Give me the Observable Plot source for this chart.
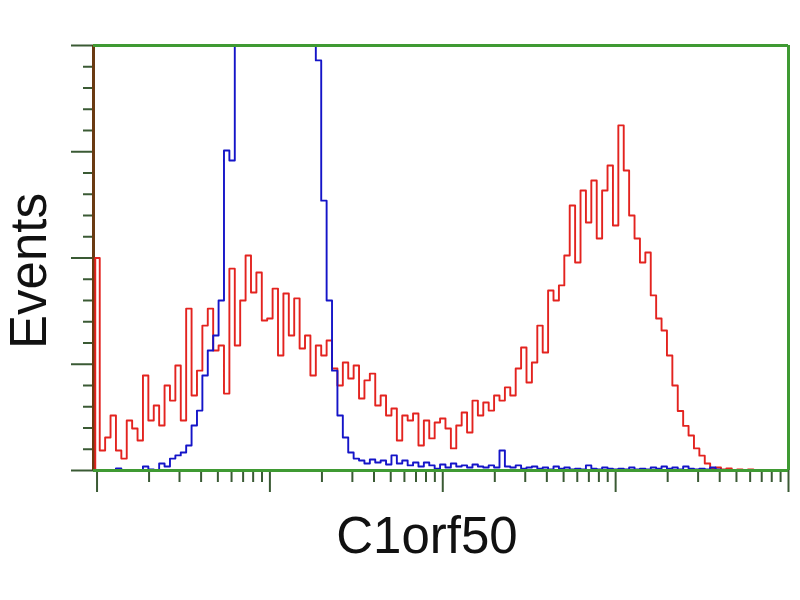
<!DOCTYPE html>
<html>
<head>
<meta charset="utf-8">
<script src="https://cdn.jsdelivr.net/npm/d3@7"></script>
<script src="https://cdn.jsdelivr.net/npm/@observablehq/plot@0.6"></script>
<style>
  html, body { margin: 0; padding: 0; background: #fff; }
</style>
</head>
<body>
<div id="chart"></div>
<script>
// Bins: FACS channel numbers (256 channels per decade, 4 decades)
const binChannels = d3.range(0, 1024, 8);

// Red histogram (C1orf50 antibody) counts per bin
const redCounts = [
  100, 9.4, 15.5, 25.9, 9.4, 5.6, 23.5, 19.8, 14.1, 44.7,
  23.5, 30.6, 21.2, 40, 32.9, 49.4, 23.5, 76.2, 35.3, 47,
  68.2, 76.2, 56.5, 58.8, 36.2, 95, 58.8, 80, 101.2, 83.8,
  93.2, 70.6, 71.5, 85.6, 54.1, 83.3, 63.5, 81, 57.4, 63.5,
  44.7, 58.8, 54.1, 61.2, 48, 40, 50.8, 43.3, 49.4, 33.9,
  42.4, 45.6, 30.6, 35.3, 25.9, 29.2, 14.1, 25.9, 23.5, 26.8,
  11.8, 23.5, 15.1, 22.6, 24.5, 19.8, 10.4, 21.2, 27.3, 17.9,
  32.9, 25.9, 32, 28.2, 35.3, 32.9, 39.1, 35.3, 48, 57.9,
  41.4, 50.8, 68.2, 55.5, 84.7, 80, 87.1, 101.2, 124.7, 97.9,
  131.8, 116.7, 136.5, 109.2, 131.8, 143.5, 115.3, 162.4, 141.2, 120,
  109.2, 97.9, 102.6, 82.4, 71.5, 65.9, 54.1, 40, 28, 21,
  16.5, 10.4, 7, 3.3, 0.9, 1.4, 0.5, 1, 0, 0.5,
  0, 0.5, 0, 0, 0, 0, 0, 0
];

// Blue histogram (negative control) counts per bin
const blueCounts = [
  0, 0, 0, 0, 1, 0, 0, 0, 0, 1.9,
  0.5, 0, 3.3, 1.9, 5.6, 7.1, 8.5, 11.8, 21.2, 28.2,
  44.7, 56.5, 63.5, 80, 150.6, 145.9, 215, 245, 270, 290,
  305, 315, 320, 318, 312, 300, 285, 265, 245, 225,
  205, 193, 127, 80, 47, 25.9, 15.5, 8.5, 5.6, 4.7,
  3.3, 5.2, 3.8, 4.7, 2.8, 7.1, 3.3, 4.7, 2.4, 3.8,
  1.9, 3.8, 2.4, 0.9, 2.8, 1.4, 3.3, 1.9, 2.4, 1.4,
  2.8, 1.9, 1.4, 2.4, 1.4, 9.4, 1.9, 1.4, 2.4, 0.9,
  1.4, 1.9, 0.9, 1.4, 0.5, 1.9, 0.9, 1.4, 0.5, 0.9,
  0.5, 2.4, 0.9, 0.5, 1.4, 0.9, 0.5, 0.9, 0.5, 1.4,
  0.5, 0.9, 0.5, 1.4, 0.9, 1.9, 0.9, 1.4, 0.5, 1.9,
  0.9, 0.5, 0.9, 0.5, 1.4, 0.5, 0, 0, 0, 0,
  0, 0, 0, 0, 0, 0, 0, 0
];

// Axis ticks
const xMajorTicks = [1, 10, 100, 1000, 10000];
const xMinorTicks = [2,3,4,5,6,7,8,9, 20,30,40,50,60,70,80,90, 200,300,400,500,600,700,800,900, 2000,3000,4000,5000,6000,7000,8000,9000];
const yMajorTicks = [0, 50, 100, 150, 200];
const yMinorTicks = [10,20,30,40, 60,70,80,90, 110,120,130,140, 160,170,180,190];

const xLabel = "C1orf50";
const yLabel = "Events";

const xDomain = [0.954, 10000];
const toFL = ch => Math.pow(10, ch / 256);

const startRow = {fl: xDomain[0], count: 0};
const redData = [startRow, ...binChannels.map((c, i) => ({fl: toFL(c), count: redCounts[i]}))];
const blueData = [startRow, ...binChannels.map((c, i) => ({fl: toFL(c), count: blueCounts[i]}))];

const green = "#3f9a33";
const tickColor = "#3a5a34";
const font = "Liberation Sans, Arial, Helvetica, sans-serif";

const chart = Plot.plot({
  width: 800,
  height: 600,
  marginTop: 45,
  marginBottom: 130,
  marginLeft: 93,
  marginRight: 12,
  style: {background: "#fff", overflow: "visible", fontFamily: font},
  x: {type: "log", domain: xDomain},
  y: {domain: [0, 200]},
  marks: [
    Plot.axisY({ticks: yMajorTicks, tickSize: 22, tickFormat: () => "", label: null, stroke: tickColor, strokeWidth: 2}),
    Plot.axisY({ticks: yMinorTicks, tickSize: 10, tickFormat: () => "", label: null, stroke: tickColor, strokeWidth: 2}),
    Plot.axisX({ticks: xMajorTicks, tickSize: 22, tickFormat: () => "", label: null, stroke: tickColor, strokeWidth: 2}),
    Plot.axisX({ticks: xMinorTicks, tickSize: 12, tickFormat: () => "", label: null, stroke: tickColor, strokeWidth: 2}),
    Plot.ruleX([xDomain[0]], {stroke: "#6a3a12", strokeWidth: 3}),
    Plot.line(redData, {x: "fl", y: "count", curve: "step", stroke: "#e3231f", strokeWidth: 1.9, clip: true}),
    Plot.line(blueData, {x: "fl", y: "count", curve: "step", stroke: "#1414c8", strokeWidth: 1.9, clip: true}),
    Plot.ruleY([0], {stroke: green, strokeWidth: 3}),
    Plot.ruleY([200], {stroke: green, strokeWidth: 3}),
    Plot.ruleX([xDomain[1]], {stroke: green, strokeWidth: 3}),
    Plot.text([yLabel], {frameAnchor: "left", textAnchor: "middle", lineAnchor: "middle", dx: -64, dy: 13, rotate: -90, fontSize: 51, fill: "#111", fontFamily: font}),
    Plot.text([xLabel], {frameAnchor: "bottom", textAnchor: "middle", lineAnchor: "middle", dx: -14, dy: 66, fontSize: 51, fill: "#111", fontFamily: font})
  ]
});
document.getElementById("chart").appendChild(chart);
</script>
</body>
</html>
